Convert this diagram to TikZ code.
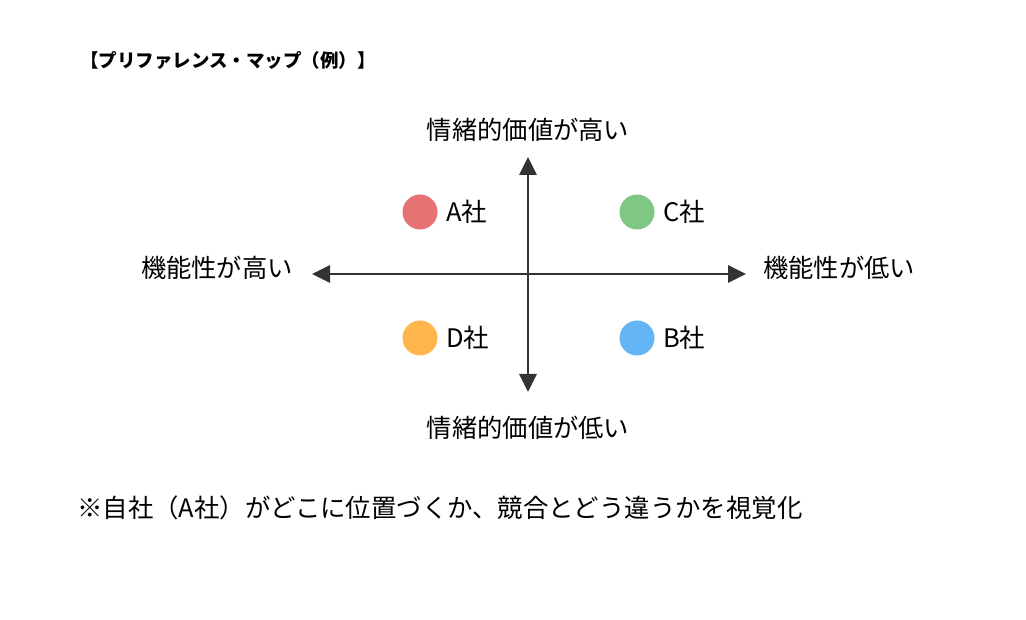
\documentclass[tikz,border=0pt]{standalone}
\usepackage{fontspec}
\setmainfont{Noto Sans CJK JP}
\usetikzlibrary{arrows.meta}
\definecolor{axis}{HTML}{333333}
\definecolor{cA}{HTML}{E57373}
\definecolor{cB}{HTML}{64B5F6}
\definecolor{cC}{HTML}{81C784}
\definecolor{cD}{HTML}{FFB74D}
\tikzset{
  axisline/.style={draw=axis, line width=2.8pt, {Triangle[length=18pt,width=17pt]}-{Triangle[length=18pt,width=17pt]}},
  dot/.style={circle, inner sep=0pt, minimum size=35pt},
  axislabel/.style={font=\fontsize{25.3}{28}\selectfont, inner sep=0pt},
  complabel/.style={font=\fontsize{25.5}{28}\selectfont, inner sep=0pt, anchor=west},
}
\begin{document}
\begin{tikzpicture}[x=1pt,y=-1pt]
\useasboundingbox[fill=white] (0,0) rectangle (1026,620);
\node[anchor=west, inner sep=0pt, font=\fontsize{18.5}{21}\selectfont\bfseries] (title) at (80,60) {【プリファレンス・マップ（例）】};
\coordinate (L) at (312,274);
\coordinate (R) at (746,274);
\coordinate (T) at (528,157);
\coordinate (Bt) at (528,392);
\draw[axisline] (L) -- (R);
\draw[axisline] (Bt) -- (T);
\node[axislabel] (top) at (528,130) {情緒的価値が高い};
\node[axislabel] (bottom) at (528,428) {情緒的価値が低い};
\node[axislabel, anchor=east] (left) at (293,268) {機能性が高い};
\node[axislabel, anchor=west] (right) at (763,268) {機能性が低い};
\node[dot, fill=cA] (a) at (420,212) {};
\node[dot, fill=cC] (c) at (637,212) {};
\node[dot, fill=cD] (d) at (420,338) {};
\node[dot, fill=cB] (b) at (637,338) {};
\node[complabel] (la) at (446,212) {A社};
\node[complabel] (lc) at (663,212) {C社};
\node[complabel] (ld) at (446,338) {D社};
\node[complabel] (lb) at (663,338) {B社};
\node[anchor=west, inner sep=0pt, font=\fontsize{25.4}{29}\selectfont] (note) at (77,508) {※自社（A社）がどこに位置づくか、競合とどう違うかを視覚化};
\end{tikzpicture}
\end{document}
